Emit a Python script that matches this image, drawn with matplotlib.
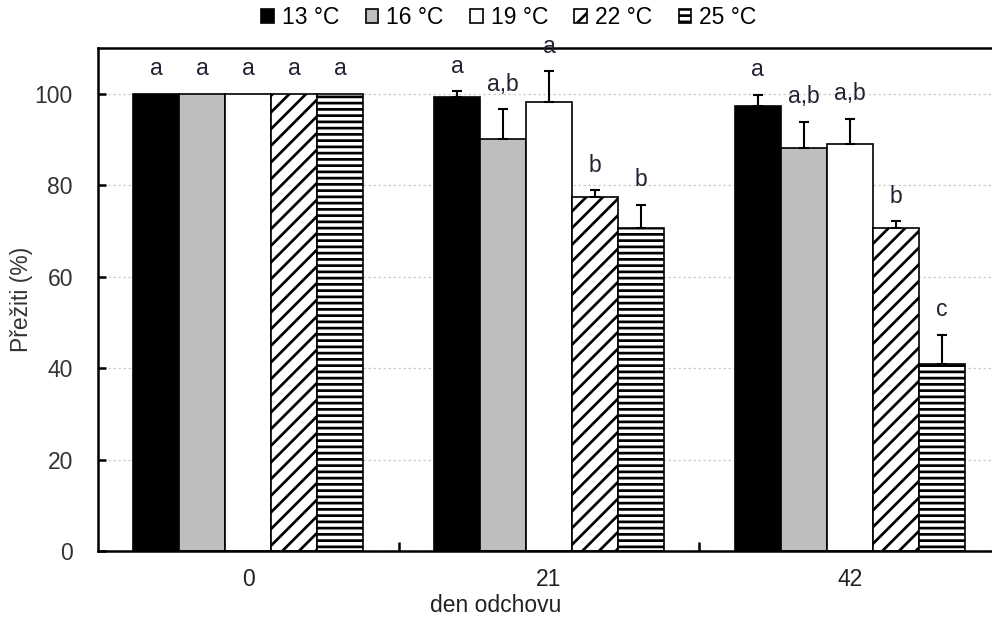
import numpy as np
import matplotlib
matplotlib.use('Agg')
import matplotlib.pyplot as plt

plt.rcParams['font.family'] = ['Liberation Sans', 'DejaVu Sans']
plt.rcParams['hatch.linewidth'] = 1.3

# survival (%) per rearing day, one list per temperature
days = ['0', '21', '42']
temps = ['13 °C', '16 °C', '19 °C', '22 °C', '25 °C']
surv_13 = [100, 99.2, 97.4]
surv_16 = [100, 90.0, 88.1]
surv_19 = [100, 98.2, 89.0]
surv_22 = [100, 77.4, 70.6]
surv_25 = [100, 70.6, 41.0]
sd_13 = [0, 1.3, 2.4]
sd_16 = [0, 6.6, 5.8]
sd_19 = [0, 6.7, 5.5]
sd_22 = [0, 1.5, 1.5]
sd_25 = [0, 5.1, 6.3]
let_13 = ['a', 'a', 'a']
let_16 = ['a', 'a,b', 'a,b']
let_19 = ['a', 'a', 'a,b']
let_22 = ['a', 'b', 'b']
let_25 = ['a', 'b', 'c']

means = [surv_13, surv_16, surv_19, surv_22, surv_25]
sds = [sd_13, sd_16, sd_19, sd_22, sd_25]
letters = [let_13, let_16, let_19, let_22, let_25]
faces = ['black', '#bebebe', 'white', 'white', 'white']
hatches = [None, None, None, '///', '----']

fig = plt.figure(figsize=(992 / 150, 619 / 150), dpi=150)
ax = fig.add_axes([98 / 992, 68 / 619, 902 / 992, 503 / 619])

x = np.arange(len(days))
w = 0.153
for i in range(len(temps)):
    pos = x + (i - 2) * w
    m = np.array(means[i], dtype=float)
    e = np.array(sds[i], dtype=float)
    ax.bar(pos, m, width=w, color=faces[i], edgecolor='black', linewidth=0.8,
           hatch=hatches[i], label=temps[i], zorder=2)
    # upper error bars only, skipped where there is no spread
    has = e > 0
    ax.errorbar(pos[has], m[has], yerr=[np.zeros(has.sum()), e[has]], fmt='none',
                ecolor='black', elinewidth=1.0, capsize=2.5, capthick=1.0, zorder=3)
    for xp, top, lab in zip(pos, m + e, letters[i]):
        ax.annotate(lab, (xp, top), xytext=(0, 12), textcoords='offset points',
                    ha='center', va='center', fontsize=11, color='#222233')

ax.set_xlim(-0.5, 2.5)
ax.set_ylim(0, 110)
ax.set_yticks(np.arange(0, 101, 20))
ax.set_xticks(x)
ax.set_xticklabels(days)
ax.set_xticks([0.5, 1.5], minor=True)
ax.tick_params(axis='x', which='major', length=0, pad=8, labelsize=11, labelcolor='#222222')
ax.tick_params(axis='x', which='minor', direction='in', length=4.5, width=1.2)
ax.tick_params(axis='y', direction='in', length=3.8, width=1.2, pad=12,
               labelsize=11, labelcolor='#333333')
ax.grid(axis='y', color='#cccccc', linestyle=(0, (2, 2)), linewidth=0.6, zorder=0)
ax.set_axisbelow(True)
for s in ax.spines.values():
    s.set_linewidth(1.2)

ax.set_ylabel('Přežiti (%)', fontsize=11, color='#333333')
ax.yaxis.set_label_coords(-(98 - 33) / 902, 0.5)
fig.text(0.5, 1 - 605 / 619, 'den odchovu', ha='center', va='center',
         fontsize=11, color='#222222')

fig.legend(loc='center', bbox_to_anchor=(0.513, 1 - 18 / 619), ncol=5, frameon=False,
           fontsize=11, handlelength=0.55, handleheight=0.55, handletextpad=0.35,
           columnspacing=1.15, borderaxespad=0)

fig.savefig('out.png', dpi=150)
